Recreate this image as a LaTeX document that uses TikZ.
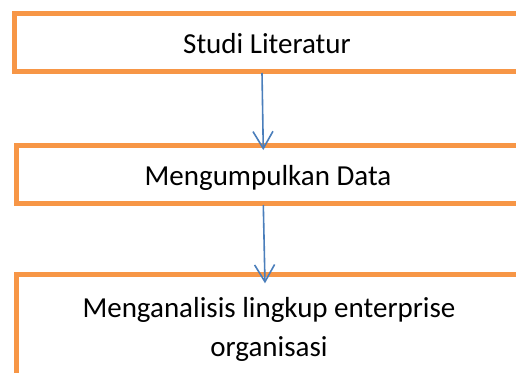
\documentclass[tikz,border=0pt]{standalone}
\usepackage{fontspec}
\setmainfont{Carlito}
\usetikzlibrary{arrows.meta,calc}
\definecolor{boxorange}{HTML}{F79646}
\definecolor{arrowblue}{HTML}{4A7EBB}
\begin{document}
\begin{tikzpicture}[x=1pt,y=-1pt,
  stepbox/.style={draw=boxorange,line width=5pt,rectangle,outer sep=0pt,inner sep=0pt,
    minimum width=506pt,font=\fontsize{29}{38.5}\selectfont,text height=26pt,text depth=4pt},
  flow/.style={draw=arrowblue,line width=1.6pt,-{Straight Barb[length=17pt,width=20pt]}}]
\useasboundingbox (0,0) rectangle (516,372);
\clip (0,0) rectangle (516,372);
\node[stepbox,minimum height=57.5pt] (b1) at (267,42.25) {Studi Literatur};
\node[stepbox,minimum width=504pt,minimum height=58pt] (b2) at (268,174.5) {Mengumpulkan Data};
\node[stepbox,minimum width=504pt,minimum height=160pt,anchor=north] (b3) at (268,274.5) {};
\node[anchor=north,align=center,inner sep=0pt,font=\fontsize{29}{38.5}\selectfont] (t3) at (269,297.5)
  {Menganalisis lingkup enterprise\\organisasi};
\draw[flow] ($(b1.south)+(-5,2)$) -- ($(b2.north)+(-4.7,4.5)$);
\draw[flow] ($(b2.south)+(-4.7,1.5)$) -- ($(b3.north)+(-3,8.8)$);
\end{tikzpicture}
\end{document}
